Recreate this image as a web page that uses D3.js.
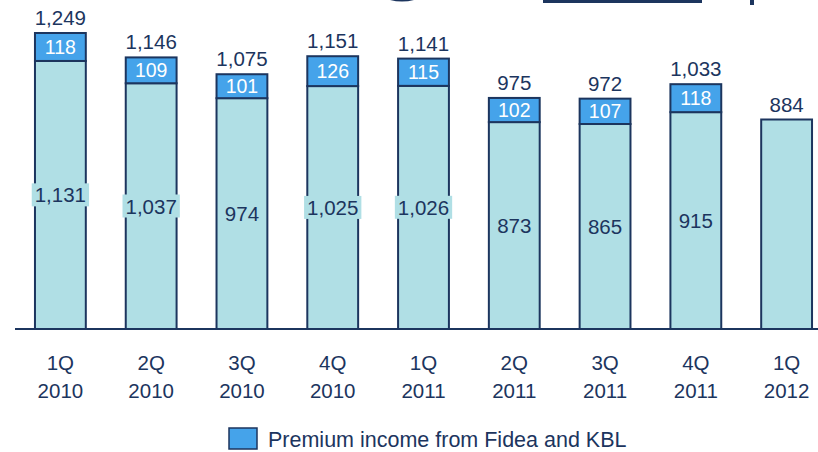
<!DOCTYPE html>
<html><head><meta charset="utf-8">
<script src="https://cdn.jsdelivr.net/npm/d3@7"></script>
<style>body{margin:0;background:#fff}svg{display:block}</style>
</head><body>
<svg id="c" width="818" height="452"></svg>
<script>
const quarters = ["1Q","2Q","3Q","4Q","1Q","2Q","3Q","4Q","1Q"];
const years = ["2010","2010","2010","2010","2011","2011","2011","2011","2012"];
const baseValues = [1131,1037,974,1025,1026,873,865,915,884];
const fideaValues = [118,109,101,126,115,102,107,118,null];
const totalLabels = ["1,249","1,146","1,075","1,151","1,141","975","972","1,033","884"];
const legendLabel = "Premium income from Fidea and KBL";

const navy = "#1c355e", baseFill = "#b0dfe5", fideaFill = "#45a3ea";
const font = "'Liberation Sans', Arial, sans-serif";
const svg = d3.select("#c");
const idx = d3.range(quarters.length);
const x = d3.scaleBand().domain(idx).range([15, 832]).paddingInner(0.44).paddingOuter(0.22);
const y = d3.scaleLinear().domain([0, 1249]).range([329, 33]);

// cropped title fragments at top
svg.append("path").attr("d","M390,0 Q402,3 414,0 Z").attr("fill",navy);
svg.append("rect").attr("x",543).attr("y",0).attr("width",159).attr("height",3).attr("fill",navy);
svg.append("rect").attr("x",750).attr("y",0).attr("width",4).attr("height",5).attr("fill",navy);

const g = svg.append("g");
g.selectAll("rect.base").data(idx).join("rect")
  .attr("x", i => x(i)).attr("width", x.bandwidth())
  .attr("y", i => y(baseValues[i])).attr("height", i => y(0) - y(baseValues[i]))
  .attr("fill", baseFill).attr("stroke", navy).attr("stroke-width", 2);
const fi = idx.filter(i => fideaValues[i] != null);
g.selectAll("rect.fid").data(fi).join("rect")
  .attr("x", i => x(i)).attr("width", x.bandwidth())
  .attr("y", i => y(baseValues[i] + fideaValues[i]))
  .attr("height", i => y(baseValues[i]) - y(baseValues[i] + fideaValues[i]))
  .attr("fill", fideaFill).attr("stroke", navy).attr("stroke-width", 2);

svg.append("line").attr("x1",15).attr("x2",818).attr("y1",y(0)).attr("y2",y(0))
  .attr("stroke", navy).attr("stroke-width", 2);

fi.forEach(i => {
  const cx = x(i) + x.bandwidth()/2;
  const cy = (y(0) + y(baseValues[i]))/2;
  const gl = svg.append("g");
  const t = gl.append("text").attr("x", cx).attr("y", cy).attr("text-anchor","middle")
    .attr("dy","0.36em").attr("font-family",font).attr("font-size",20.5).attr("fill",navy)
    .text(d3.format(",")(baseValues[i]));
  const bb = t.node().getBBox();
  gl.insert("rect","text").attr("x",bb.x-3).attr("y",bb.y).attr("width",bb.width+6).attr("height",bb.height)
    .attr("fill",baseFill);
});
svg.selectAll("text.fl").data(fi).join("text")
  .attr("x", i => x(i) + x.bandwidth()/2)
  .attr("y", i => (y(baseValues[i]) + y(baseValues[i] + fideaValues[i]))/2)
  .attr("dy","0.36em").attr("text-anchor","middle").attr("font-family",font).attr("font-size",19.5)
  .attr("fill","#fff").text(i => fideaValues[i]);
svg.selectAll("text.tot").data(idx).join("text")
  .attr("x", i => x(i) + x.bandwidth()/2)
  .attr("y", i => y(baseValues[i] + (fideaValues[i] || 0)) - 8)
  .attr("text-anchor","middle").attr("font-family",font).attr("font-size",20.5)
  .attr("fill",navy).text(i => totalLabels[i]);
const xl = svg.selectAll("text.xl").data(idx).join("text")
  .attr("text-anchor","middle").attr("font-family",font).attr("font-size",20.5).attr("fill",navy);
xl.append("tspan").attr("x", i => x(i) + x.bandwidth()/2).attr("y", 370).text(i => quarters[i]);
xl.append("tspan").attr("x", i => x(i) + x.bandwidth()/2).attr("y", 398).text(i => years[i]);

svg.append("rect").attr("x",229).attr("y",428).attr("width",28).attr("height",21)
  .attr("fill",fideaFill).attr("stroke",navy).attr("stroke-width",1.5);
svg.append("text").attr("x",268).attr("y",447).attr("font-family",font).attr("font-size",21.5)
  .attr("fill",navy).text(legendLabel);
</script>
</body></html>
